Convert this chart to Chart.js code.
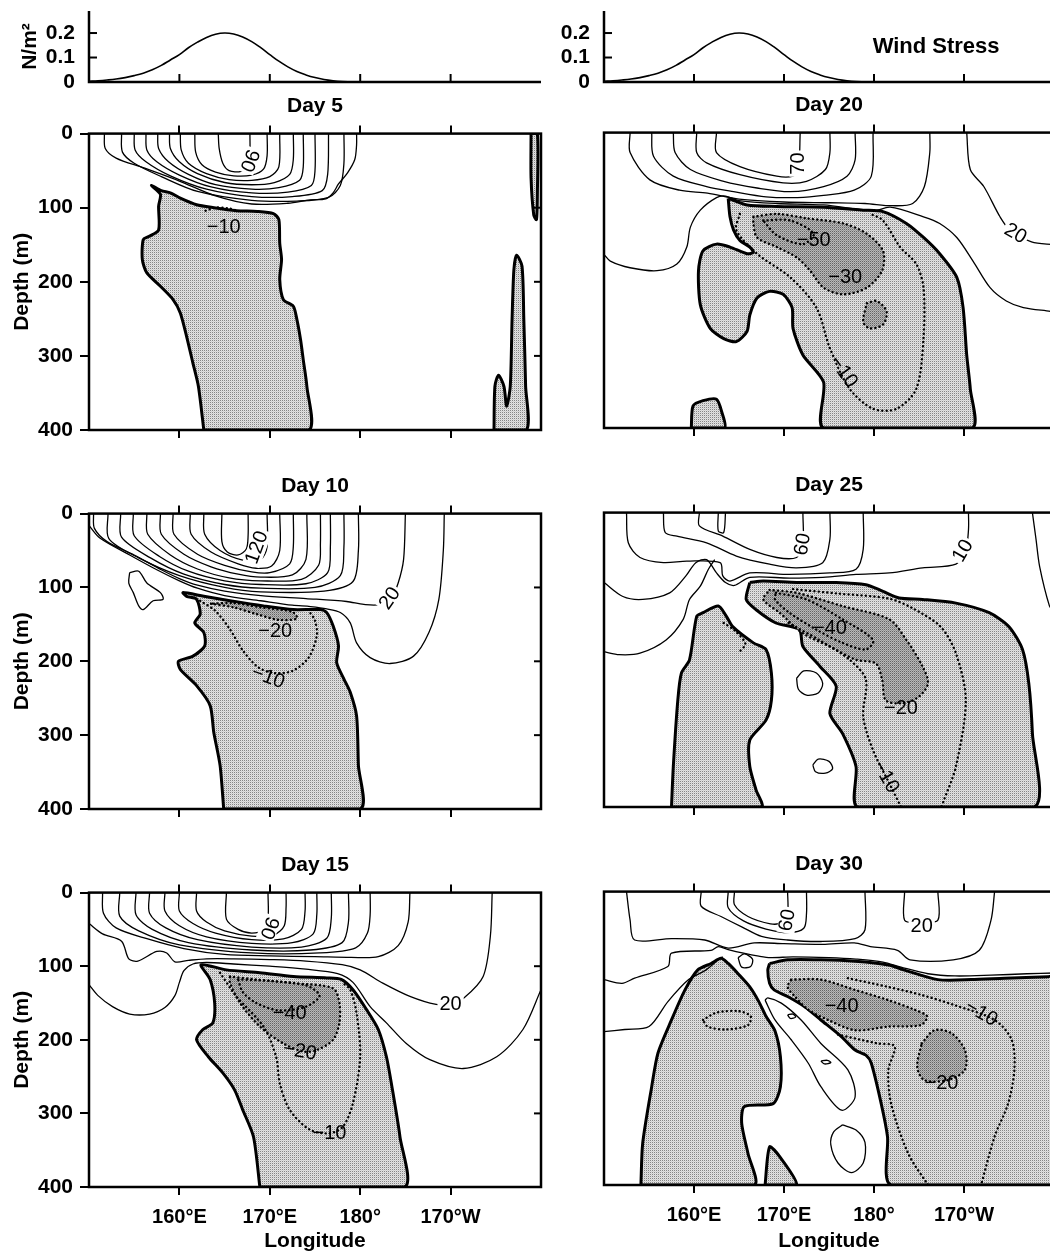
<!DOCTYPE html>
<html><head><meta charset="utf-8">
<script src="https://cdn.jsdelivr.net/npm/chart.js@4.4.0/dist/chart.umd.min.js"></script>
<style>
html,body{margin:0;padding:0;background:#fff;width:1050px;height:1254px;overflow:hidden;position:relative}
canvas{position:absolute}
</style></head><body>
<canvas id="w1"></canvas><canvas id="w2"></canvas>
<canvas id="p5"></canvas><canvas id="p20"></canvas>
<canvas id="p10"></canvas><canvas id="p25"></canvas>
<canvas id="p15"></canvas><canvas id="p30"></canvas>
<script>
// ---------------- DATA ----------------
const xTickValues = [160, 170, 180, 190];
const xTickLabels = ['160°E', '170°E', '180°', '170°W'];
const depthTicks = [0, 100, 200, 300, 400];
const windTicks = [0, 0.1, 0.2];
const windLon = [150,151,152,153,154,155,156,157,158,159,160,161,162,163,164,165,166,167,168,169,170,171,172,173,174,175,176,177,178,179,180,181,182,183,184,185,186,187,188,189,190,191,192,193,194,195,196,197,198,199,200];
const windStress = [0.003,0.005,0.008,0.012,0.018,0.026,0.036,0.05,0.068,0.09,0.112,0.14,0.163,0.182,0.195,0.2,0.196,0.184,0.165,0.14,0.112,0.085,0.062,0.043,0.029,0.018,0.01,0.005,0.002,0.001,0,0,0,0,0,0,0,0,0,0,0,0,0,0,0,0,0,0,0,0,0];
const panelTitles = ['Day 5', 'Day 10', 'Day 15', 'Day 20', 'Day 25', 'Day 30'];

// contour lines: [longitude (deg E, 180+ = W), depth (m)]
// Day 5
const day5_pos = [
 [[164.3,0],[164.4,20],[164.8,40],[165.5,50],[166.8,51],[167.6,42],[167.8,25],[167.8,0]],
 [[161.7,0],[161.8,25],[162.5,42],[164,52],[166,57],[168,56],[169.3,48],[169.7,30],[169.7,0]],
 [[160.1,0],[160.2,22],[161,40],[163,54],[165.5,62],[168,63],[170,58],[171,45],[171.1,0]],
 [[158.9,0],[159,20],[160,38],[162,54],[165,66],[168,69],[170.5,66],[172.2,55],[172.6,35],[172.6,0]],
 [[157.6,0],[157.7,20],[158.8,38],[161,55],[164,69],[168,75],[171,73],[173.3,63],[173.7,45],[173.7,0]],
 [[156.3,0],[156.4,22],[157.5,38],[160,56],[163.5,72],[168,80],[172,79],[174.6,70],[175,50],[175,0]],
 [[155,0],[155.1,22],[156.3,38],[159,57],[163,75],[168,85],[172.5,85],[175.8,77],[176.4,55],[176.5,0]],
 [[153.6,0],[153.7,25],[155,40],[158,58],[162,78],[168,90],[173,91],[176.5,86],[177.8,70],[178.2,40],[178.2,0]],
 [[151.7,0],[151.8,20],[153,33],[156,46],[160,64],[164,84],[168,95],[172,94],[174.5,89.5],[176.2,88],[177,80],[177.6,68],[178.6,53],[179.4,35],[179.6,15],[179.6,0]]
];
const day5_zero = [
 [[162.7,400],[162.1,341],[161.5,310],[160.8,274],[160.1,242],[159.3,224],[157.9,206],[156.4,188],[155.9,170],[156,143],[156.6,139],[157.7,130],[157.7,98],[157.9,82],[156.9,70],[158,77],[159,80],[160.1,87],[161.9,96],[163.8,100],[166.3,104],[168.6,105],[170.4,108],[171,116],[171.1,148],[171.3,170],[171.1,197],[171.5,224],[172.6,233],[173,251],[173.4,278],[173.7,305],[174.1,341],[174.3,400]],
 [[198.9,0],[198.9,60],[199.2,110],[199.5,116],[199.6,80],[199.6,0]],
 [[194.8,400],[194.9,341],[195.3,326],[195.9,341],[196.2,368],[196.6,341],[196.8,251],[197,184],[197.3,164],[197.9,179],[198.1,251],[198.3,341],[198.4,400]]
];
const day5_dark = [];
const day5_neg = [[[162.9,104],[164,100],[165.5,101],[166.6,105]]];
const day5_labels = [{lon:167.7,depth:36,text:'90',rot:110,bg:true},{lon:164.9,depth:127,text:'−10',rot:0}];

// Day 10
const day10_pos = [
 [[164.7,0],[164.7,38],[165.3,52],[166.5,56],[167.4,48],[167.6,30],[167.6,0]],
 [[162.7,0],[162.8,28],[164.5,50],[167,63],[169,62],[169.7,45],[169.7,0]],
 [[161.2,0],[161.3,28],[163.5,52],[166.5,68],[168.5,74],[170.2,71],[171.1,50],[171.1,0]],
 [[159.3,0],[159.4,28],[162,55],[165,70],[168,79],[170,80],[172.2,68],[172.6,45],[172.6,0]],
 [[157.9,0],[158,28],[160.5,55],[163.5,72],[166.5,82],[169,86],[172.5,83],[174,62],[174.1,0]],
 [[156.4,0],[156.5,28],[159,56],[162,75],[165.5,87],[169,91],[173.5,89],[175.4,70],[175.6,40],[175.6,0]],
 [[154.9,0],[155,30],[157.8,58],[161,78],[165,91],[169,96],[174,95],[176.4,80],[176.7,45],[176.7,0]],
 [[153.5,0],[153.6,32],[156.8,60],[160.5,82],[165,96],[169,101],[175,100],[177.8,84],[178.2,45],[178.2,0]],
 [[152.1,0],[152.2,34],[155.5,60],[160,84],[165,100],[169,106],[176,105],[179.2,92],[179.8,50],[179.8,0]],
 [[150.5,0],[150.6,20],[152,38],[155,56],[158,76],[160,88],[162,97],[165,105],[169,111],[174,115],[178.5,119],[180.4,123],[182.2,123],[183.5,112],[184.2,94],[184.8,62],[185,0]],
 [[150,16],[151.2,33],[154.5,56],[157.5,76],[160,91],[162,101],[165,111],[169,118],[172.5,124],[174.5,126],[176.3,129],[177.8,134],[178.9,148],[179.6,175],[181.1,195],[183.3,203],[185.9,193],[187.6,161],[188.7,116],[189.2,49],[189.3,0]]
];
const day10_loops = [[[154.5,80],[155.5,78],[156.4,94],[157.9,107],[158.2,116],[157.1,118],[156,130],[155.5,125],[154.9,107],[154.4,94]]];
const day10_zero = [
 [[164.9,400],[164.5,341],[163.8,296],[163.4,260],[161.9,233],[160.1,211],[159.9,200],[161.5,193],[162.8,179],[162.7,161],[161.7,148],[162.3,136],[161.9,116],[160.8,112],[160.4,107],[162.7,112],[165.6,118],[169.3,125],[172.6,130],[175.6,130],[176.3,134],[177,152],[177.6,179],[177.4,202],[178.2,224],[178.9,242],[179.6,274],[179.8,341],[180,400]]
];
const day10_dark = [[[163.5,122],[166,127],[168.5,136],[171,144],[173,142],[172.5,133],[169,127],[166,121]]];
const day10_neg = [[[162.3,118],[164,132],[165.5,155],[167,185],[168.7,208],[170.5,216],[172.5,213],[174.3,195],[175.2,165],[175,145],[174.4,133]]];
const day10_labels = [{lon:168.6,depth:46,text:'120',rot:-70,bg:true},{lon:183.3,depth:115,text:'20',rot:-55,bg:true},{lon:170.6,depth:160,text:'−20',rot:0},{lon:169.8,depth:222,text:'−10',rot:20}];

// Day 15
const day15_pos = [
 [[165.2,0],[165.2,36],[166.5,50],[168,55],[169.3,50],[169.8,35],[169.8,0]],
 [[161.9,0],[161.9,25],[163,40],[165,52],[168,59],[170.5,57],[171.6,45],[171.8,20],[171.8,0]],
 [[160,0],[160,25],[161.5,42],[164,55],[168,64],[171.5,63],[173.5,50],[173.9,25],[173.9,0]],
 [[158.4,0],[158.4,25],[160,45],[163,60],[168,69],[172.5,68],[174.8,56],[175.2,30],[175.2,0]],
 [[156.7,0],[156.7,28],[158.5,48],[162,64],[168,74],[173.5,74],[176.3,62],[176.8,35],[176.8,0]],
 [[155.2,0],[155.2,30],[157,50],[161,68],[168,78],[174.5,78],[178,68],[178.7,40],[178.7,0]],
 [[153.4,0],[153.4,32],[155.5,52],[160,71],[168,82],[175.5,82],[179.5,75],[180.8,55],[181.1,30],[181.1,0]],
 [[151.5,0],[151.6,28],[153,48],[156.5,63],[160.5,76],[165,84],[170,86],[175,87],[179,88],[182,87],[184.2,72],[185.3,40],[185.5,0]],
 [[150,42],[151.5,56],[153.6,66],[154.4,90],[155.4,93],[157.5,80],[158.6,82],[159.5,94],[161,92],[163,90],[166,90],[170,91],[174,93],[178,98],[180,105],[182.5,123],[185.5,141],[188.4,152],[190,152],[191.5,143],[193.6,114],[194.4,59],[194.6,0]],
 [[150,125],[151,140],[152.6,155],[154.5,165],[156.7,165],[158.4,156],[159.5,140],[160,122],[160.5,106],[161.5,97],[163,95],[166,97],[170,100],[174,104],[177.5,110],[179.2,122],[181.1,155],[182.9,177],[185.1,205],[187.7,227],[191.4,239],[195.1,223],[198,186],[200,132]]
];
const day15_zero = [
 [[168.9,400],[168.2,332],[167,295],[166.1,268],[164.8,245],[163.2,223],[161.9,200],[162.6,186],[163.7,177],[163.9,150],[163.4,118],[162.4,98],[165.2,105],[168.9,109],[172.6,114],[176.3,116],[177.9,118],[179.2,132],[180.7,159],[182,186],[182.9,223],[183.5,263],[184.4,332],[184.9,400]]
];
const day15_dark = [[[165.6,114],[168.5,118],[172.6,123],[177,130],[177.7,150],[177.7,177],[177,200],[175.2,214],[173.7,216],[171.5,205],[168.9,182],[166.7,150],[165.6,123]]];
const day15_neg = [[[164.5,109],[166.3,141],[169.3,182],[170.7,223],[171.1,259],[172.2,295],[174.4,322],[176.6,327],[178.1,318],[179.2,286],[180,223],[179.6,164],[178.9,132],[178.1,123]]];
const day15_negLoops = [[[166.5,118],[170,120],[174,126],[175.5,140],[174,155],[171,160],[168.5,150],[167,135]]];
const day15_labels = [{lon:169.9,depth:48,text:'90',rot:110,bg:true},{lon:190,depth:152,text:'20',rot:0,bg:true},{lon:172.2,depth:164,text:'−40',rot:0},{lon:173.3,depth:216,text:'−20',rot:10},{lon:176.6,depth:327,text:'−10',rot:0}];

// Day 20
const day20_pos = [
 [[162.5,0],[162.5,27],[165.1,46],[169.2,59],[171,59],[171.6,50],[171.8,0]],
 [[160.3,0],[160.3,27],[161.4,41],[165.1,57],[169.9,68],[172.5,66],[174.6,50],[175.1,27],[175.1,0]],
 [[157.7,0],[157.9,27],[159.6,50],[163.3,66],[167,75],[170.7,80],[174.4,73],[177,59],[177.9,37],[177.9,0]],
 [[155.3,0],[155.5,32],[157.7,59],[161.4,73],[164.4,80],[168,87],[171.5,88],[174.4,85],[177.8,78],[179.7,59],[179.9,0]],
 [[152.9,0],[152.9,27],[155.1,64],[158.4,78],[161.5,82],[165,90],[170,94],[175,95],[179,96],[182,99],[184.3,96],[185.6,73],[186.2,27],[186.2,0]],
 [[150,165],[150.7,174],[152.9,183],[155.9,187],[158.1,178],[159.2,155],[159.6,128],[160.7,105],[162.5,88],[163.5,86],[165,92],[169.2,96],[174.4,98],[179.9,106],[181.8,101],[185.5,114],[187.3,123],[189.2,142],[191,174],[192.9,210],[194.7,228],[196.6,237],[199.6,242],[200,243]],
 [[190.3,0],[190.7,50],[192.2,73],[194,114],[195.1,132],[197.5,148],[200,152]]
];
const day20_zero = [
 [[163.8,89],[165.9,98],[169.2,100],[174.4,101],[178.8,105],[181,107],[183.6,123],[185.5,142],[187.3,164],[189.2,196],[189.9,237],[190.3,301],[190.7,347],[190.9,400],[174.4,400],[174.4,338],[172.1,301],[171,265],[170.9,237],[169.9,219],[168.4,215],[167,224],[166.2,247],[165.9,269],[164.7,283],[163.3,279],[161.8,265],[160.7,233],[160.5,187],[161,160],[162.5,151],[164,155],[165.9,164],[166.6,162],[166.2,155],[165.1,146],[164.4,132],[164,114]],
 [[159.7,400],[159.9,370],[161,363],[162.5,361],[163.1,379],[163.4,400]]
];
const day20_dark = [
 [[166.6,114],[169.2,110],[172.5,116],[176.6,123],[179.2,137],[181,160],[180.9,187],[179.2,210],[176.6,219],[174.4,210],[172.9,187],[171.4,169],[169.2,155],[167,142],[166.6,123]],
 [[179.2,231],[180.3,228],[181.4,242],[181,260],[179.5,265],[178.8,256]]
];
const day20_neg = [[[165.1,110],[164.7,132],[167,164],[170.7,196],[173.6,237],[175.1,292],[177.3,347],[179.9,374],[182.5,374],[184.7,347],[185.5,279],[185.5,210],[184.7,178],[182.9,155],[181,119],[179.6,110]]];
const day20_negLoops = [[[167.7,119],[170.7,119],[173.3,137],[172.1,151],[169.2,139]]];
const day20_labels = [{lon:171.6,depth:42,text:'70',rot:-90,bg:true},{lon:195.7,depth:137,text:'20',rot:30,bg:true},{lon:173.3,depth:146,text:'−50',rot:0},{lon:176.8,depth:196,text:'−30',rot:0},{lon:176.6,depth:324,text:'−10',rot:55}];

// Day 25
const day25_pos = [
 [[160.6,0],[160.6,18],[163.2,32],[166.2,50],[169.2,61],[171.4,61],[172.1,45],[172.1,0]],
 [[162.7,0],[162.7,25],[163.3,27],[163.5,0]],
 [[156.6,0],[156.8,27],[158.1,32],[161.4,41],[164.7,59],[168.4,70],[171.4,75],[174.3,68],[175.1,36],[175.1,0]],
 [[152.5,0],[152.7,41],[154,61],[156.6,68],[159.2,66],[162.9,68],[163.2,86],[164,93],[166.2,82],[170.6,84],[175.1,82],[178,77],[178.8,50],[178.8,0]],
 [[150,95],[152.1,114],[154.3,118],[157.3,109],[159.1,86],[160.2,68],[161.4,64],[162.5,82],[163.5,95],[164.5,99],[166.2,88],[170.6,89],[174.3,88],[178,84],[181.7,82],[185.4,75],[189.1,70],[190.2,50],[190.5,23],[190.5,0]],
 [[150,189],[151.7,193],[154,191],[156.9,173],[158.8,145],[159.5,118],[160.7,100],[161.6,77],[162.3,64]],
 [[197.6,0],[198,36],[198.4,73],[199.5,127],[200,135]]
];
const day25_loops = [
 [[171.4,225],[172.2,215],[173.6,218],[174.3,232],[173.8,245],[172.5,248],[171.6,240]],
 [[173.2,343],[173.8,335],[175,338],[175.4,348],[174.6,354],[173.5,352]]
];
const day25_zero = [
 [[157.5,400],[157.7,345],[158.2,255],[158.6,218],[159.5,200],[160.3,141],[161,136],[162.7,127],[163.6,141],[164.3,155],[166.6,177],[168,186],[168.6,218],[168.6,255],[168,282],[166.2,309],[166.2,345],[166.9,377],[167.5,400]],
 [[166.2,95],[167.7,93],[171.4,95],[175.8,95],[179.1,98],[181,107],[182.8,116],[185.4,118],[189.1,123],[192.8,136],[195,155],[196.5,186],[197.2,232],[197.6,300],[197.8,400],[178.2,400],[178,345],[176.5,300],[175.1,273],[175.8,236],[174,209],[172.1,182],[171.7,159],[169.1,150],[166.9,132],[165.8,118]]
];
const day25_dark = [[[168.4,105],[171.4,109],[176.5,127],[181.7,145],[183.6,173],[185.4,209],[186,232],[185,250],[183.2,259],[181.3,255],[180.9,227],[180.2,205],[178,200],[175.1,182],[172.1,164],[169.5,136],[167.7,118]]];
const day25_neg = [
 [[171,104],[176,110],[181.7,117],[184.3,130],[187.4,155],[189.1,191],[190.2,255],[189.1,345],[187.7,393],[187.5,400]],
 [[170.5,150],[173.9,173],[177.3,200],[179.1,227],[178.8,277],[179.9,323],[181.7,368],[183,400]],
 [[163.3,150],[164.5,160],[165.7,178],[165,190]]
];
const day25_negLoops = [[[169.1,109],[172.5,118],[176.5,145],[179.9,173],[179.1,186],[176.5,177],[173.6,159],[170.6,136],[169,118]]];
const day25_labels = [{lon:172.1,depth:43,text:'60',rot:-80,bg:true},{lon:189.9,depth:52,text:'10',rot:-60,bg:true},{lon:175.1,depth:157,text:'−40',rot:0},{lon:183,depth:266,text:'−20',rot:0},{lon:181.3,depth:359,text:'−10',rot:60}];

// Day 30
const day30_pos = [
 [[164.5,0],[164.5,18],[166,34],[168.5,44],[169.8,42],[170.4,30],[170.4,0]],
 [[163.8,0],[163.8,22],[165.5,40],[168,51],[170.5,56],[172.2,50],[172.5,30],[172.5,0]],
 [[160.8,0],[160.8,20],[163,34],[165.3,48],[167.5,61],[170.4,66],[174.1,68],[177.9,64],[179,52],[179,0]],
 [[152.5,0],[152.9,39],[153.4,66],[157.5,64],[161.2,66],[163.8,77],[166.7,70],[170,71],[174.3,72],[177.8,70],[179.6,75],[182.6,80],[184,93],[188.8,93],[191.7,80],[193,39],[193.4,0]],
 [[183.4,0],[183.4,39],[185,42],[187.1,39],[187.1,0]],
 [[150,120],[152,125],[153.4,118],[157.1,102],[157.5,84],[161.9,80],[162.7,75],[163.8,79],[165.5,84],[167.2,88],[168.5,90],[171,89],[175,90],[178,92],[181,96],[183,103],[186,112],[189,115],[193,114],[197,112],[200,111]],
 [[150,191],[152.3,188],[155,184],[157.1,150],[159.4,120],[161.3,107],[162.7,93],[163.2,89]]
];
const day30_loops = [
 [[167.9,148],[169,175],[170.8,202],[172.7,234],[174.1,266],[176.4,298],[177.9,280],[177.1,243],[174.1,207],[171.9,175],[169.7,152],[168.2,145]],
 [[176.5,318],[178,325],[179,342],[178.8,370],[177.5,383],[176,370],[175.2,345],[175.5,328]],
 [[164.9,90],[165.6,85],[166.5,92],[166.3,102],[165.3,103]],
 [[170.4,168],[171,167],[171.3,171],[170.7,173]],
 [[174.1,231],[174.8,230],[175.2,233],[174.5,235]]
];
const day30_zero = [
 [[154.1,400],[154.3,343],[155.3,266],[156,220],[157.5,175],[159,134],[160.4,107],[161.9,98],[163,91],[163.8,98],[164.9,112],[166.2,130],[167.2,150],[168,170],[169,190],[169.6,225],[169.6,266],[168.8,289],[165.6,293],[165.3,316],[166,357],[166.7,400]],
 [[167.9,400],[168.4,348],[169.5,361],[171.4,400]],
 [[168.4,98],[170.4,93],[174.1,93],[177.9,95],[181.6,100],[183.4,107],[187.1,120],[190.8,120],[194.5,118],[199.3,116],[200,116],[200,400],[181.9,400],[181.5,334],[180.8,289],[179.7,234],[179.1,223],[177.9,216],[176.4,198],[174.1,175],[172.3,157],[170.4,143],[168.9,134],[168.4,125],[168.2,107]]
];
const day30_dark = [
 [[170.8,120],[174.1,120],[177.9,134],[181.6,148],[184.5,161],[185.9,170],[185.2,182],[181.6,184],[177.9,189],[174.9,175],[172.7,161],[171.2,143],[170.4,130]],
 [[185.3,207],[186.7,189],[188.6,193],[190.1,216],[190.1,243],[188.2,257],[185.6,257],[184.8,239]]
];
const day30_neg = [
 [[177.1,118],[181.6,130],[185.3,141],[189,155],[193.4,175],[195.3,202],[195.6,243],[194.9,289],[193.4,334],[191.9,400]],
 [[176,195],[180.4,207],[182.3,211],[181.6,243],[181.9,289],[183.8,357],[186,400]]
];
const day30_negLoops = [[[161,175],[162.5,165],[165,163],[166.3,170],[166,182],[163.5,188],[161.5,184]]];
const day30_labels = [{lon:170.4,depth:39,text:'60',rot:-80,bg:true},{lon:185.3,depth:48,text:'20',rot:0,bg:true},{lon:176.4,depth:157,text:'−40',rot:0},{lon:191.9,depth:166,text:'−10',rot:30},{lon:187.5,depth:261,text:'−20',rot:0}];

// ---------------- RENDER ----------------
const FONT = "'Liberation Sans', Arial, Helvetica, sans-serif";

function tilePattern(c00, c11, base) {
  const t = document.createElement('canvas'); t.width = 2; t.height = 2;
  const g = t.getContext('2d');
  g.fillStyle = base; g.fillRect(0, 0, 2, 2);
  g.fillStyle = c00; g.fillRect(0, 0, 1, 1);
  g.fillStyle = c11; g.fillRect(1, 1, 1, 1);
  return g.createPattern(t, 'repeat');
}
const lightPat = tilePattern('#858585', '#cfcfcf', '#e2e2e2');
const darkPat = tilePattern('#636363', '#939393', '#b8b8b8');

const toXY = p => p.map(q => ({x: q[0], y: q[1]}));
const closeP = p => p.concat([p[0]]);

function layer(pts, kind) {
  const closed = (kind === 'light' || kind === 'dark' || kind === 'loop' || kind === 'negloop');
  const ds = {data: toXY(closed ? closeP(pts) : pts), pointRadius: 0, pointHoverRadius: 0, pointHitRadius: 0,
    tension: 0.3, fill: false, borderColor: '#000', borderJoinStyle: 'round'};
  if (kind === 'light') Object.assign(ds, {fill: 'shape', backgroundColor: lightPat, borderWidth: 3, order: 5, tension: 0.25});
  else if (kind === 'dark') Object.assign(ds, {fill: 'shape', backgroundColor: darkPat, borderWidth: 2.4, borderDash: [0.1, 4.2], borderCapStyle: 'round', order: 4});
  else if (kind === 'neg' || kind === 'negloop') Object.assign(ds, {borderWidth: 2.4, borderDash: [0.1, 4.2], borderCapStyle: 'round', order: 2});
  else Object.assign(ds, {borderWidth: 1.3, order: 1});
  return ds;
}

const deco = {
  id: 'deco',
  afterDatasetsDraw(chart, args, opts) {
    const {ctx, chartArea: a} = chart;
    const xs = chart.scales.x, ys = chart.scales.y;
    ctx.save();
    (opts.labels || []).forEach(l => {
      const px = xs.getPixelForValue(l.lon), py = ys.getPixelForValue(l.depth);
      ctx.save();
      ctx.translate(px, py); ctx.rotate((l.rot || 0) * Math.PI / 180);
      ctx.font = l.font || ('20px ' + FONT);
      ctx.textAlign = 'center'; ctx.textBaseline = 'middle';
      if (l.bg) { const w = ctx.measureText(l.text).width; ctx.fillStyle = '#fff'; ctx.fillRect(-w / 2 - 2, -9, w + 4, 18); }
      ctx.fillStyle = '#000'; ctx.fillText(l.text, 0, 0);
      ctx.restore();
    });
    ctx.strokeStyle = '#000'; ctx.lineWidth = 2.5; ctx.lineCap = 'butt';
    if (opts.frame === 'box') {
      ctx.strokeRect(a.left, a.top, a.right - a.left, a.bottom - a.top);
      if (opts.rightTicks) {
        ctx.lineWidth = 2;
        depthTicks.slice(1, -1).forEach(v => {
          const py = ys.getPixelForValue(v);
          ctx.beginPath(); ctx.moveTo(a.right, py); ctx.lineTo(a.right - 7, py); ctx.stroke();
        });
      }
    } else if (opts.frame === 'wind') {
      ctx.beginPath(); ctx.moveTo(a.left, a.top); ctx.lineTo(a.left, a.bottom); ctx.lineTo(a.right, a.bottom); ctx.stroke();
      ctx.lineWidth = 2;
      windTicks.slice(1).forEach(v => {
        const py = ys.getPixelForValue(v);
        ctx.beginPath(); ctx.moveTo(a.left, py); ctx.lineTo(a.left + 8, py); ctx.stroke();
      });
      xTickValues.forEach(v => {
        const px = xs.getPixelForValue(v);
        ctx.beginPath(); ctx.moveTo(px, a.bottom); ctx.lineTo(px, a.bottom - 8); ctx.stroke();
      });
    }
    ctx.restore();
  }
};

const tickGrid = len => ({display: true, drawOnChartArea: false, drawTicks: true, tickLength: len, color: '#000', lineWidth: 2});

function setupCanvas(id, left, top, w, h) {
  const cv = document.getElementById(id);
  cv.width = w; cv.height = Math.round(h);
  cv.style.left = left + 'px'; cv.style.top = top + 'px';
  cv.style.width = w + 'px'; cv.style.height = Math.round(h) + 'px';
  return cv;
}

function windChart(id, col) {
  const left = col === 'L' ? 0 : 520;
  const w = col === 'L' ? 545 : 538;
  const cv = setupCanvas(id, left, -10, w, 114);
  const labels = col === 'R' ? [{lon: 186.9, depth: 0.143, text: 'Wind Stress', rot: 0, font: 'bold 22px ' + FONT}] : [];
  new Chart(cv, {
    type: 'line',
    data: {datasets: [{data: windLon.map((x, i) => ({x, y: windStress[i]})), borderColor: '#000', borderWidth: 1.6, pointRadius: 0, tension: 0.4, fill: false}]},
    options: {
      responsive: false, animation: false, events: [],
      layout: {autoPadding: false, padding: {left: 0, right: 4, top: 21, bottom: 22}},
      plugins: {legend: {display: false}, tooltip: {enabled: false}, deco: {frame: 'wind', labels}},
      scales: {
        x: {type: 'linear', min: 150, max: 200, display: false},
        y: {type: 'linear', min: 0, max: 0.29,
          afterBuildTicks: s => { s.ticks = windTicks.map(v => ({value: v})); },
          afterFit: s => { s.width = col === 'L' ? 89 : 84; },
          grid: {display: false}, border: {display: false},
          ticks: {color: '#000', padding: 6, font: {family: FONT, size: 21, weight: 'bold'}, autoSkip: false,
            callback: v => v === 0 ? '0' : v.toFixed(1)},
          title: {display: col === 'L', text: 'N/m²', color: '#000', font: {family: FONT, size: 21, weight: 'bold'}, padding: {top: 18, bottom: 0}}
        }
      }
    },
    plugins: [deco]
  });
}

function contourChart(id, col, row, title, sets, labels) {
  const tops = col === 'L' ? [134, 514, 893] : [133, 513, 892];
  const bots = col === 'L' ? [430, 809, 1187] : [428, 807, 1185];
  const Tc = tops[row], Bc = bots[row];
  const last = row === 2;
  const xH = last ? 1254 - Bc : 24;
  const topOff = 25.2 + 14.4;
  const left = col === 'L' ? 0 : 600;
  const w = col === 'L' ? 545 : 458;
  const cv = setupCanvas(id, left, Tc - topOff, w, (Bc - Tc) + topOff + xH);
  const datasets = [];
  (sets.zero || []).forEach(p => datasets.push(layer(p, 'light')));
  (sets.dark || []).forEach(p => datasets.push(layer(p, 'dark')));
  (sets.neg || []).forEach(p => datasets.push(layer(p, 'neg')));
  (sets.negLoops || []).forEach(p => datasets.push(layer(p, 'negloop')));
  (sets.pos || []).forEach(p => datasets.push(layer(p, 'pos')));
  (sets.loops || []).forEach(p => datasets.push(layer(p, 'loop')));
  const fontB = size => ({family: FONT, size, weight: 'bold'});
  new Chart(cv, {
    type: 'line',
    data: {datasets},
    options: {
      responsive: false, animation: false, events: [],
      layout: {autoPadding: false, padding: {left: col === 'L' ? 0 : 4, right: 4, top: 0, bottom: 0}},
      plugins: {
        legend: {display: false}, tooltip: {enabled: false},
        title: {display: true, text: title, fullSize: false, color: '#000', font: fontB(21), padding: {top: 0, bottom: 0}},
        deco: {frame: 'box', rightTicks: col === 'L', labels}
      },
      scales: {
        x: {type: 'linear', position: 'bottom', min: 150, max: 200,
          afterBuildTicks: s => { s.ticks = xTickValues.map(v => ({value: v})); },
          afterFit: s => { s.height = xH; },
          grid: tickGrid(8), border: {display: false},
          ticks: {display: last, color: '#000', padding: 10, maxRotation: 0, autoSkip: false, font: fontB(20),
            callback: v => xTickLabels[xTickValues.indexOf(v)]},
          title: {display: last, text: 'Longitude', color: '#000', font: fontB(21), padding: {top: 0, bottom: 0}}
        },
        xTop: {type: 'linear', position: 'top', min: 150, max: 200,
          afterBuildTicks: s => { s.ticks = xTickValues.map(v => ({value: v})); },
          afterFit: s => { s.height = 14.4; },
          grid: tickGrid(8), border: {display: false}, ticks: {display: false}
        },
        y: {type: 'linear', position: 'left', min: 0, max: 400, reverse: true, display: col === 'L',
          afterBuildTicks: s => { s.ticks = depthTicks.map(v => ({value: v})); },
          afterFit: s => { s.width = col === 'L' ? 89 : 0; },
          grid: tickGrid(9), border: {display: false},
          ticks: {color: '#000', padding: 7, autoSkip: false, font: fontB(21)},
          title: {display: true, text: 'Depth (m)', color: '#000', font: fontB(21), padding: {top: 10, bottom: 0}}
        }
      }
    },
    plugins: [deco]
  });
}

windChart('w1', 'L');
windChart('w2', 'R');
contourChart('p5', 'L', 0, panelTitles[0], {zero: day5_zero, dark: day5_dark, neg: day5_neg, pos: day5_pos}, day5_labels);
contourChart('p10', 'L', 1, panelTitles[1], {zero: day10_zero, dark: day10_dark, neg: day10_neg, pos: day10_pos, loops: day10_loops}, day10_labels);
contourChart('p15', 'L', 2, panelTitles[2], {zero: day15_zero, dark: day15_dark, neg: day15_neg, negLoops: day15_negLoops, pos: day15_pos}, day15_labels);
contourChart('p20', 'R', 0, panelTitles[3], {zero: day20_zero, dark: day20_dark, neg: day20_neg, negLoops: day20_negLoops, pos: day20_pos}, day20_labels);
contourChart('p25', 'R', 1, panelTitles[4], {zero: day25_zero, dark: day25_dark, neg: day25_neg, negLoops: day25_negLoops, pos: day25_pos, loops: day25_loops}, day25_labels);
contourChart('p30', 'R', 2, panelTitles[5], {zero: day30_zero, dark: day30_dark, neg: day30_neg, negLoops: day30_negLoops, pos: day30_pos, loops: day30_loops}, day30_labels);
</script>
</body></html>
